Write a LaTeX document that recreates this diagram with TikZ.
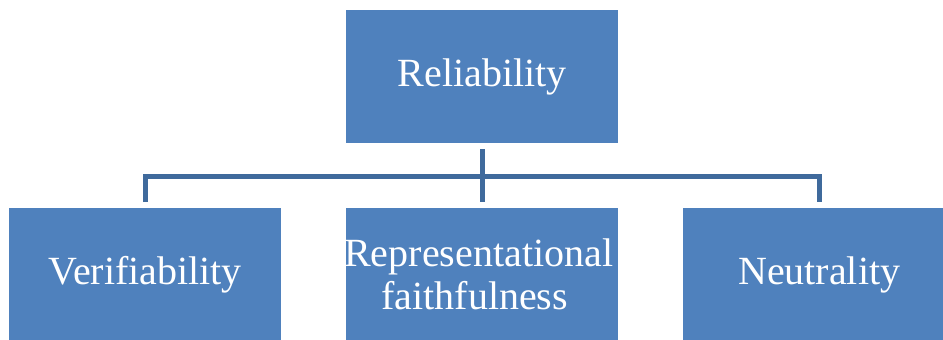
\documentclass[tikz,border=0pt]{standalone}
\usepackage{fontspec}
\setmainfont{Liberation Serif}
\definecolor{boxblue}{HTML}{4F81BD}
\definecolor{lineblue}{HTML}{3F6A9C}
\begin{document}
\begin{tikzpicture}[x=1pt,y=-1pt,
  box/.style={fill=boxblue, minimum width=272pt, minimum height=133pt, inner sep=0pt,
    text=white, font=\fontsize{40}{43}\selectfont, align=center, anchor=north west},
  conn/.style={draw=lineblue, line width=5pt}]
\useasboundingbox (0,0) rectangle (943,340);
\clip (0,0) rectangle (943,340);
\node[box] (rel) at (346,10) {Reliability};
\node[box] (ver) at (9,208) {Verifiability};
\node[box] (rep) at (346,208) {};
\node[text=white, font=\fontsize{40}{43}\selectfont, align=center, inner sep=0pt]
  (reptext) at (rep.center) {Representational\hspace*{7pt}\\faithfulness\hspace*{15pt}};
\node[box] (neu) at (683,208) {Neutrality};
\draw[conn] ([yshift=-6pt]rel.south) -- ([yshift=6pt]rep.north);
\draw[conn] ([yshift=6pt]ver.north) |- ([yshift=32pt]rep.north) -| ([yshift=6pt]neu.north);
\end{tikzpicture}
\end{document}
